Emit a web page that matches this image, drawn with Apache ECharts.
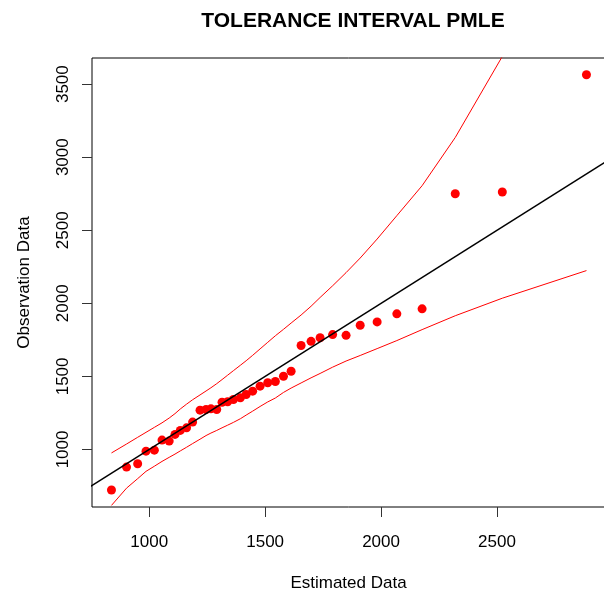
<!DOCTYPE html>
<html>
<head>
<meta charset="utf-8">
<script src="https://cdn.jsdelivr.net/npm/echarts@6/dist/echarts.min.js"></script>
<style>
html, body { margin: 0; padding: 0; background: #fff; }
#chart { width: 604px; height: 594px; }
</style>
</head>
<body>
<div id="chart"></div>
<script>
// sorted estimated quantiles vs observations
var estimated = [837, 902, 950, 986, 1022, 1055, 1086, 1111, 1134, 1161, 1187, 1219, 1245, 1266, 1291, 1314, 1338, 1363, 1393,
    1418, 1446, 1478, 1511, 1544, 1579, 1612, 1655, 1698, 1737, 1791, 1849, 1910, 1983, 2068, 2177, 2320, 2523, 2886];
var observed = [722, 879, 902, 988, 995, 1064, 1057, 1103, 1130, 1148, 1187, 1269, 1273, 1278, 1273, 1323, 1326, 1342, 1353,
    1376, 1399, 1433, 1456, 1465, 1501, 1535, 1711, 1740, 1764, 1786, 1781, 1850, 1873, 1928, 1962, 2750, 2762, 3564];
var upperLimit = [976, 1037, 1083, 1117, 1151, 1182, 1215, 1245, 1277, 1310, 1340, 1373, 1400, 1422, 1450, 1478, 1508, 1539, 1576,
    1607, 1644, 1688, 1733, 1778, 1822, 1865, 1920, 1980, 2040, 2120, 2210, 2310, 2440, 2600, 2805, 3135, 3690, 4900];
var lowerLimit = [617, 735, 800, 850, 885, 918, 946, 968, 990, 1015, 1040, 1070, 1095, 1112, 1130, 1148, 1166, 1185, 1210,
    1235, 1262, 1294, 1325, 1352, 1390, 1420, 1455, 1490, 1520, 1563, 1605, 1643, 1690, 1745, 1820, 1915, 2035, 2224];
var refLine = [700, 3100]; // y = x
var xTicks = [1000, 1500, 2000, 2500];
var yTicks = [1000, 1500, 2000, 2500, 3000, 3500];
var xRange = [753, 2966];
var yRange = [606, 3679];

function pairs(xs, ys) {
    return xs.map(function (x, i) { return [x, ys[i]]; });
}
function plain(v) { return String(v); }

var font = 'Liberation Sans, Arial, sans-serif';
var chart = echarts.init(document.getElementById('chart'));

chart.setOption({
    animation: false,
    backgroundColor: '#fff',
    title: {
        text: 'TOLERANCE INTERVAL PMLE',
        left: 348,
        top: 6,
        textAlign: 'center',
        textStyle: { fontFamily: font, fontSize: 21, fontWeight: 'bold', color: '#000' }
    },
    grid: {
        left: 92, top: 58, right: -1, bottom: 87,
        show: true, borderColor: '#000', borderWidth: 1,
        outerBoundsMode: 'none'
    },
    xAxis: {
        type: 'value',
        min: xRange[0], max: xRange[1],
        name: 'Estimated Data',
        nameLocation: 'middle',
        nameGap: 68,
        nameTextStyle: { fontFamily: font, fontSize: 17, color: '#000' },
        splitLine: { show: false },
        axisLine: { show: false },
        axisTick: { show: true, length: 10, customValues: xTicks, lineStyle: { color: '#333' } },
        axisLabel: { customValues: xTicks, formatter: plain, margin: 27, fontFamily: font, fontSize: 17, color: '#000' }
    },
    yAxis: {
        type: 'value',
        min: yRange[0], max: yRange[1],
        name: 'Observation Data',
        nameLocation: 'middle',
        nameGap: 59,
        nameTextStyle: { fontFamily: font, fontSize: 17, color: '#000' },
        splitLine: { show: false },
        axisLine: { show: false },
        axisTick: { show: true, length: 10, customValues: yTicks, lineStyle: { color: '#333' } },
        axisLabel: { customValues: yTicks, formatter: plain, rotate: 90, margin: 20, fontFamily: font, fontSize: 17, color: '#000' }
    },
    series: [
        {
            type: 'scatter',
            data: pairs(estimated, observed),
            symbolSize: 9,
            itemStyle: { color: '#ff0000', opacity: 1 },
            z: 1
        },
        {
            type: 'line',
            data: pairs(estimated, upperLimit),
            showSymbol: false,
            clip: true,
            lineStyle: { color: '#ff0000', width: 1 },
            z: 2
        },
        {
            type: 'line',
            data: pairs(estimated, lowerLimit),
            showSymbol: false,
            clip: true,
            lineStyle: { color: '#ff0000', width: 1 },
            z: 2
        },
        {
            type: 'line',
            data: pairs(refLine, refLine),
            showSymbol: false,
            clip: true,
            lineStyle: { color: '#000', width: 1.5 },
            z: 3
        }
    ]
});
</script>
</body>
</html>
